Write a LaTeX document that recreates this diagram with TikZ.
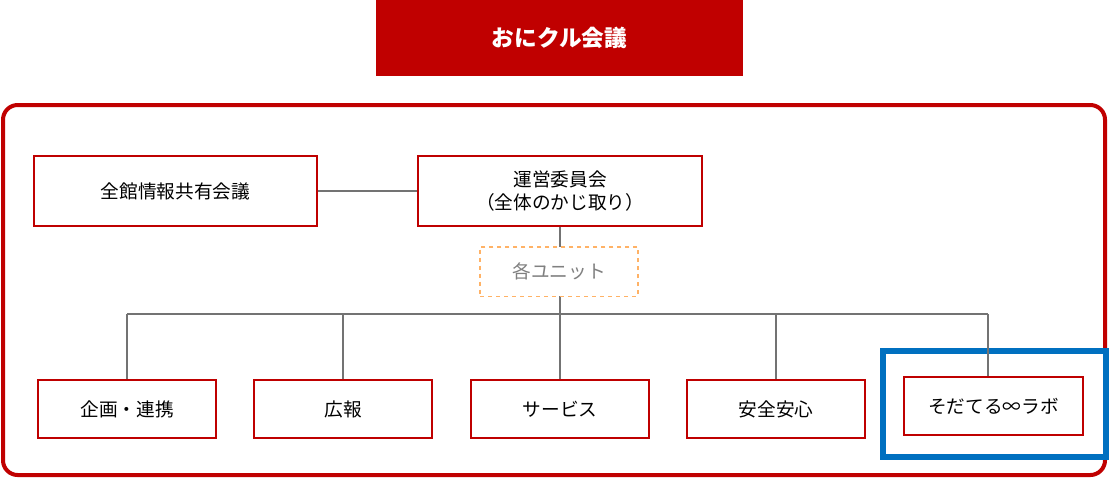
\documentclass[tikz,border=0pt]{standalone}
\usepackage{fontspec}
\setmainfont{Noto Sans CJK JP}
\begin{document}
\begin{tikzpicture}[x=0.75pt,y=-0.75pt,
  box/.style={draw=red!75!black,line width=1.3pt,fill=white,minimum height=52.5pt,font=\fontsize{14}{17}\selectfont,align=center,inner sep=0pt},
  conn/.style={draw=gray!90!black,line width=1.6pt}]
\useasboundingbox (0,0) rectangle (1110,479);
\definecolor{dred}{HTML}{C00000}
\definecolor{lblue}{HTML}{0070C0}
\node[fill=dred,minimum width=275.25pt,minimum height=57pt,text=white,font=\fontsize{17}{20}\selectfont\bfseries,inner sep=0pt] (title) at (559.5,38) {おにクル会議};
\draw[dred,line width=3pt,rounded corners=11pt] (3,105) rectangle (1105,475);
\node[box,minimum width=212pt] (zenkan) at (175.5,191) {全館情報共有会議};
\node[box,minimum width=213pt] (unei) at (560,191) {運営委員会\\（全体のかじ取り）};
\draw[conn] (zenkan) -- (unei);
\coordinate (top) at (560,314);
\draw[conn] (unei.south) -- (top);
\node[draw=orange!60,dashed,line width=1pt,fill=white,minimum width=118.5pt,minimum height=37pt,text=gray,font=\fontsize{14}{17}\selectfont] (unit) at (559,271.5) {各ユニット};
\draw[lblue,line width=4pt] (883,351) rectangle (1106,457);
\node[box,minimum width=133.5pt,minimum height=43.5pt] (b1) at (127,409) {企画・連携};
\node[box,minimum width=133.5pt,minimum height=43.5pt] (b2) at (343,409) {広報};
\node[box,minimum width=133.5pt,minimum height=43.5pt] (b3) at (560,409) {サービス};
\node[box,minimum width=133.5pt,minimum height=43.5pt] (b4) at (776,409) {安全安心};
\node[box,minimum width=134pt,minimum height=43.5pt] (b5) at (993.5,406) {そだてる∞ラボ};
\draw[conn] (127,314) -- (988,314);
\draw[conn] (b1.north) -- (127,314);
\draw[conn] (b2.north) -- (343,314);
\draw[conn] (b3.north) -- (top);
\draw[conn] (b4.north) -- (776,314);
\draw[conn] (988,376) -- (988,314);
\end{tikzpicture}
\end{document}
